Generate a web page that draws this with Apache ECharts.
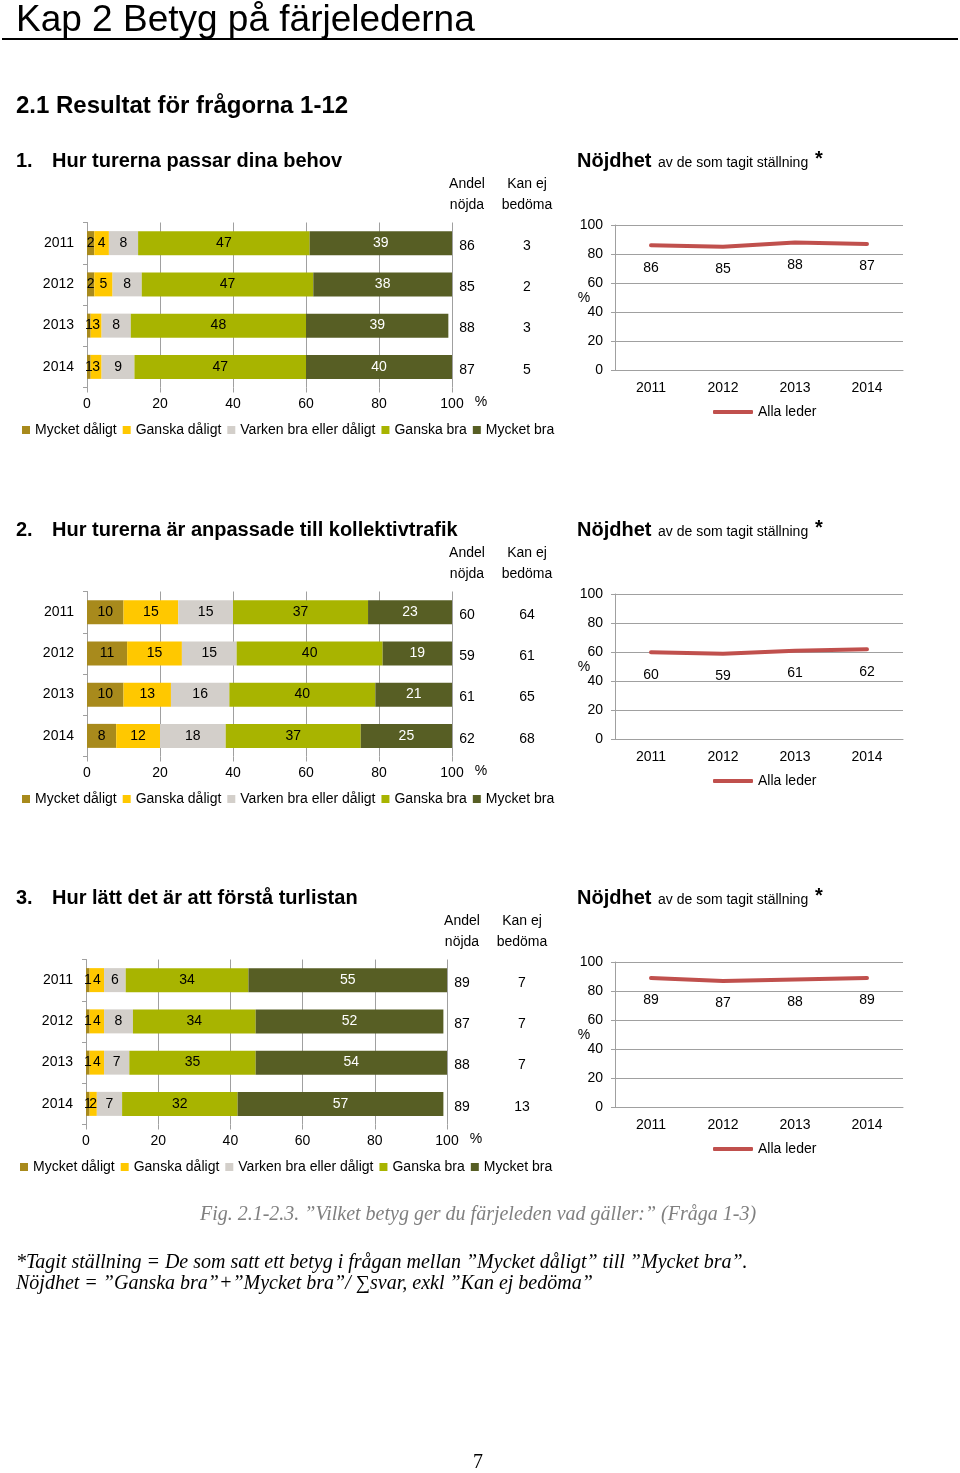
<!DOCTYPE html>
<html>
<head>
<meta charset="utf-8">
<script src="https://cdn.jsdelivr.net/npm/echarts@6/dist/echarts.min.js"></script>
<style>
html,body{margin:0;padding:0;background:#fff;}
#c{width:960px;height:1473px;}
</style>
</head>
<body>
<div id="c"></div>
<script>
// ---------- DATA ----------
const years = ['2011', '2012', '2013', '2014'];
const ratingNames = ['Mycket dåligt', 'Ganska dåligt', 'Varken bra eller dåligt', 'Ganska bra', 'Mycket bra'];
const trendName = 'Alla leder';

// Fråga 1
const q1Title = 'Hur turerna passar dina behov';
const q1VeryPoor = [2, 2, 1, 1];
const q1FairlyPoor = [4, 5, 3, 3];
const q1Neutral = [8, 8, 8, 9];
const q1FairlyGood = [47, 47, 48, 47];
const q1VeryGood = [39, 38, 39, 40];
const q1Satisfied = [86, 85, 88, 87];
const q1CannotJudge = [3, 2, 3, 5];
const q1Trend = [86, 85, 88, 87];

// Fråga 2
const q2Title = 'Hur turerna är anpassade till kollektivtrafik';
const q2VeryPoor = [10, 11, 10, 8];
const q2FairlyPoor = [15, 15, 13, 12];
const q2Neutral = [15, 15, 16, 18];
const q2FairlyGood = [37, 40, 40, 37];
const q2VeryGood = [23, 19, 21, 25];
const q2Satisfied = [60, 59, 61, 62];
const q2CannotJudge = [64, 61, 65, 68];
const q2Trend = [60, 59, 61, 62];

// Fråga 3
const q3Title = 'Hur lätt det är att förstå turlistan';
const q3VeryPoor = [1, 1, 1, 1];
const q3FairlyPoor = [4, 4, 4, 2];
const q3Neutral = [6, 8, 7, 7];
const q3FairlyGood = [34, 34, 35, 32];
const q3VeryGood = [55, 52, 54, 57];
const q3Satisfied = [89, 87, 88, 89];
const q3CannotJudge = [7, 7, 7, 13];
const q3Trend = [89, 87, 88, 89];

// ---------- BUILD ----------
const blocks = [
  { num: '1.', title: q1Title, bars: [q1VeryPoor, q1FairlyPoor, q1Neutral, q1FairlyGood, q1VeryGood], sat: q1Satisfied, cj: q1CannotJudge, trend: q1Trend },
  { num: '2.', title: q2Title, bars: [q2VeryPoor, q2FairlyPoor, q2Neutral, q2FairlyGood, q2VeryGood], sat: q2Satisfied, cj: q2CannotJudge, trend: q2Trend },
  { num: '3.', title: q3Title, bars: [q3VeryPoor, q3FairlyPoor, q3Neutral, q3FairlyGood, q3VeryGood], sat: q3Satisfied, cj: q3CannotJudge, trend: q3Trend }
];
const layout = [
  { dy: 0, gl: 87, gw: 365, lg: 17 },
  { dy: 369, gl: 87, gw: 365, lg: 17 },
  { dy: 737, gl: 86, gw: 361, lg: 15 }
];

const FONT = '"Liberation Sans", Arial, Helvetica, sans-serif';
const SERIF = '"Liberation Serif", "Times New Roman", serif';
const barColors = ['#A88A1C', '#FFC800', '#D3CFCA', '#A8B400', '#575E24'];
const lineRed = '#C0504D';
const gridGray = '#A0A0A0';

const grid = [], xAxis = [], yAxis = [], series = [], legend = [], graphic = [];

function txt(x, y, text, font, extra) {
  const el = { type: 'text', x: x, y: y, silent: true,
    style: Object.assign({ text: text, font: font, fill: '#000', align: 'left', verticalAlign: 'middle' }, (extra || {})) };
  graphic.push(el);
  return el;
}

// Page header
txt(16, 21, 'Kap 2 Betyg på färjelederna', '37px ' + FONT);
graphic.push({ type: 'line', silent: true, shape: { x1: 2, y1: 39, x2: 958, y2: 39 }, style: { stroke: '#000', lineWidth: 2 } });
txt(16, 106, '2.1 Resultat för frågorna 1-12', 'bold 24px ' + FONT);

blocks.forEach((b, k) => {
  const L = layout[k];
  const dy = L.dy;
  const gr = L.gl + L.gw;

  // Titles
  txt(16, 161 + dy, b.num, 'bold 20px ' + FONT);
  txt(52, 161 + dy, b.title, 'bold 20px ' + FONT);
  txt(577, 161 + dy, 'Nöjdhet', 'bold 20px ' + FONT);
  txt(658, 163 + dy, 'av de som tagit ställning', '14px ' + FONT);
  txt(815, 159 + dy, '*', 'bold 20px ' + FONT);

  // Column headers
  txt(gr + 15, 184 + dy, 'Andel', '14px ' + FONT, { align: 'center' });
  txt(gr + 15, 205 + dy, 'nöjda', '14px ' + FONT, { align: 'center' });
  txt(gr + 75, 184 + dy, 'Kan ej', '14px ' + FONT, { align: 'center' });
  txt(gr + 75, 205 + dy, 'bedöma', '14px ' + FONT, { align: 'center' });
  txt(gr + 29, 402 + dy, '%', '14px ' + FONT, { align: 'center' });
  // Line chart unit
  txt(584, 298 + dy, '%', '14px ' + FONT, { align: 'center' });

  // Grids
  grid.push({ left: L.gl, top: 222.5 + dy, width: L.gw, height: 165 });
  grid.push({ left: 615, top: 225 + dy, width: 288, height: 145.5 });

  // Bar chart axes
  xAxis.push({
    type: 'value', gridIndex: 2 * k, min: 0, max: 100, interval: 20,
    axisLine: { show: false },
    axisTick: { show: true, length: 5, lineStyle: { color: gridGray } },
    splitLine: { show: true, lineStyle: { color: gridGray, width: 1 } },
    axisLabel: { fontSize: 14, color: '#000', margin: 10, fontFamily: FONT }
  });
  yAxis.push({
    type: 'category', gridIndex: 2 * k, data: years, inverse: true,
    axisLine: { show: true, lineStyle: { color: gridGray } },
    axisTick: { show: true, length: 4, lineStyle: { color: gridGray } },
    axisLabel: { fontSize: 14, color: '#000', margin: 13, fontFamily: FONT }
  });
  yAxis.push({
    type: 'category', gridIndex: 2 * k, data: years, inverse: true, position: 'right',
    axisLine: { show: false }, axisTick: { show: false }, splitLine: { show: false },
    axisLabel: {
      margin: 0, color: '#000', fontFamily: FONT,
      formatter: (v, i) => '{a|' + b.sat[i] + '}{b|' + b.cj[i] + '}',
      rich: {
        a: { width: 30, align: 'center', fontSize: 14, color: '#000', fontFamily: FONT, padding: [6, 0, 0, 0] },
        b: { width: 90, align: 'center', fontSize: 14, color: '#000', fontFamily: FONT, padding: [6, 0, 0, 0] }
      }
    }
  });

  // Line chart axes
  xAxis.push({
    type: 'category', gridIndex: 2 * k + 1, data: years, boundaryGap: true,
    axisLine: { show: true, lineStyle: { color: gridGray } },
    axisTick: { show: false },
    axisLabel: { fontSize: 14, color: '#000', margin: 11, fontFamily: FONT }
  });
  yAxis.push({
    type: 'value', gridIndex: 2 * k + 1, min: 0, max: 100, interval: 20,
    axisLine: { show: true, lineStyle: { color: gridGray } },
    axisTick: { show: true, length: 4, lineStyle: { color: gridGray } },
    splitLine: { show: true, lineStyle: { color: gridGray } },
    axisLabel: { fontSize: 14, color: '#000', margin: 12, fontFamily: FONT }
  });

  // Bar series
  b.bars.forEach((arr, j) => {
    series.push({
      type: 'bar', name: ratingNames[j], xAxisIndex: 2 * k, yAxisIndex: 3 * k,
      stack: 'q' + k, barWidth: 24, data: arr,
      itemStyle: { color: barColors[j] },
      label: { show: true, position: 'inside', fontSize: 14, fontFamily: FONT, color: j === 4 ? '#fff' : '#000' },
      emphasis: { disabled: true }
    });
  });

  // Line series
  series.push({
    type: 'line', name: trendName, xAxisIndex: 2 * k + 1, yAxisIndex: 3 * k + 2,
    data: b.trend, symbol: 'circle', symbolSize: 1, showSymbol: true,
    lineStyle: { width: 4, color: lineRed, cap: 'round' },
    itemStyle: { color: lineRed },
    label: { show: true, position: 'bottom', distance: 15, fontSize: 14, color: '#000', fontFamily: FONT },
    emphasis: { disabled: true }
  });

  // Legends
  legend.push({
    left: L.lg, top: 418 + dy, data: ratingNames, icon: 'rect', itemWidth: 8, itemHeight: 8, itemGap: 6,
    selectedMode: false, textStyle: { fontSize: 14, color: '#000', fontFamily: FONT }
  });
  legend.push({
    left: 708, top: 400 + dy, data: [trendName], icon: 'roundRect', itemWidth: 40, itemHeight: 4,
    selectedMode: false, textStyle: { fontSize: 14, color: '#000', fontFamily: FONT }
  });
});

// Footer
txt(478, 1215, 'Fig. 2.1-2.3. ”Vilket betyg ger du färjeleden vad gäller:” (Fråga 1-3)', 'italic 20px ' + SERIF, { align: 'center', fill: '#808080' });
txt(16, 1263, '*Tagit ställning = De som satt ett betyg i frågan mellan ”Mycket dåligt” till ”Mycket bra”.', 'italic 20px ' + SERIF);
txt(16, 1284, 'Nöjdhet = ”Ganska bra”+”Mycket bra”/ ∑svar, exkl ”Kan ej bedöma”', 'italic 20px ' + SERIF);
txt(478, 1463, '7', '20px ' + SERIF, { align: 'center' });

const chart = echarts.init(document.getElementById('c'), null, { renderer: 'canvas' });
chart.setOption({
  backgroundColor: '#fff',
  animation: false,
  textStyle: { fontFamily: FONT },
  grid: grid, xAxis: xAxis, yAxis: yAxis, series: series, legend: legend, graphic: graphic
});
</script>
</body>
</html>
